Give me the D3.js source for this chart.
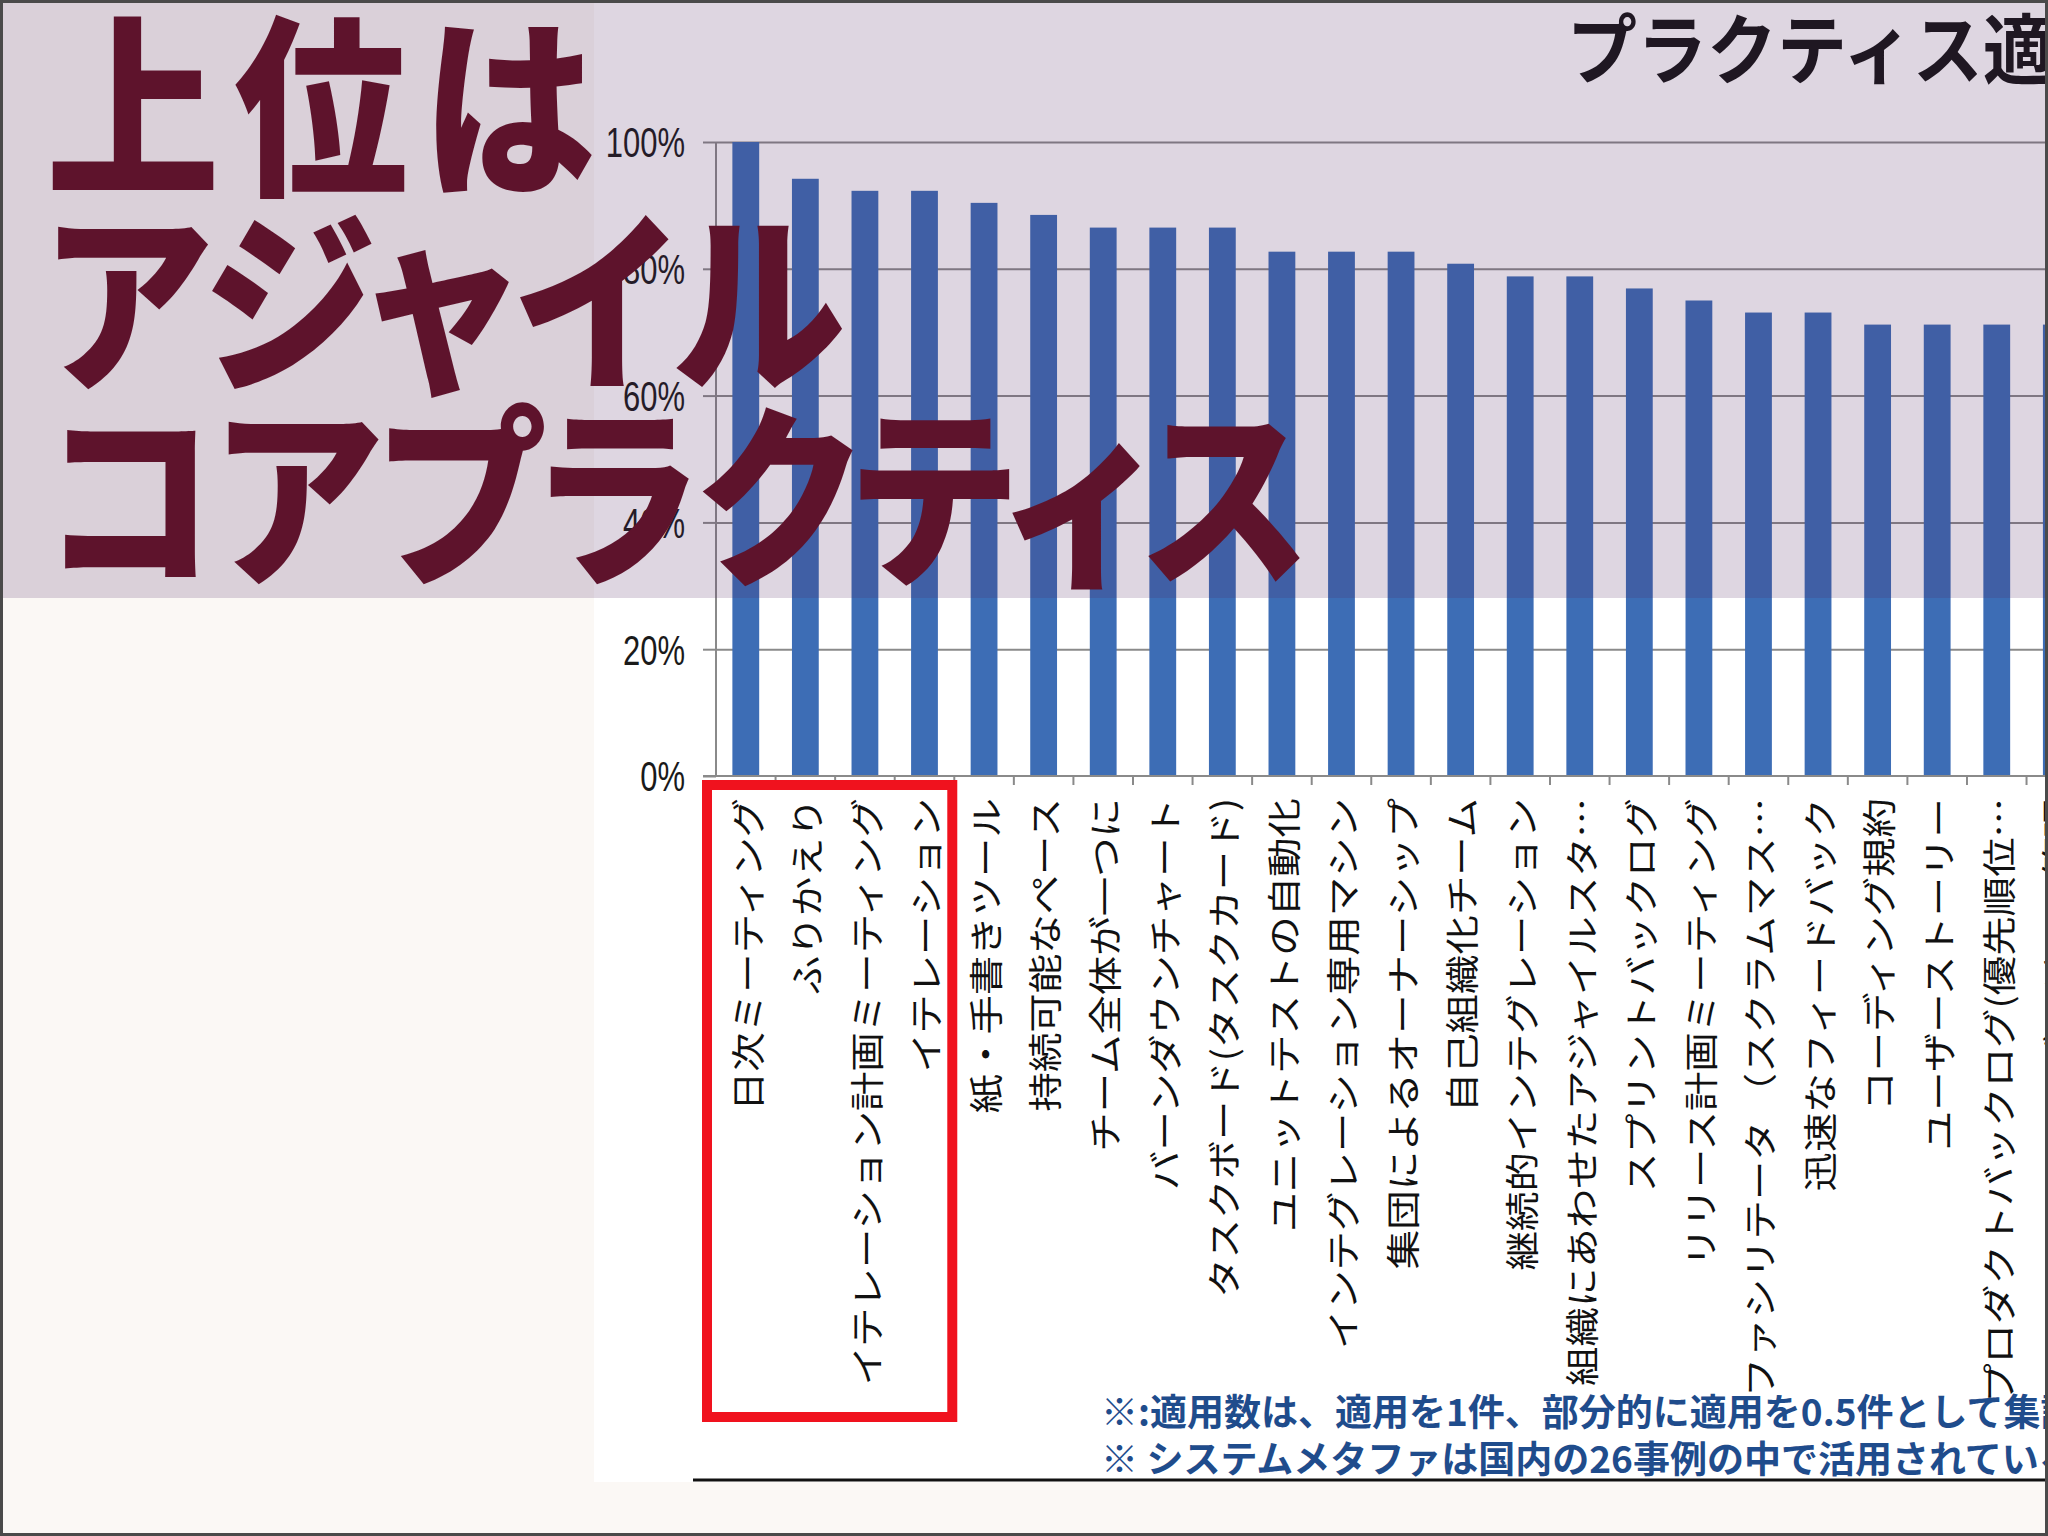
<!DOCTYPE html>
<html>
<head>
<meta charset="utf-8">
<script src="https://cdn.jsdelivr.net/npm/d3@7"></script>
<style>
  html, body { margin: 0; padding: 0; background: #fbf8f5; }
  svg { display: block; }
</style>
</head>
<body>
<svg id="chart" width="2048" height="1536"></svg>
<script>
// ---- data ----
const categories = [
  "日次ミーティング",
  "ふりかえり",
  "イテレーション計画ミーティング",
  "イテレーション",
  "紙・手書きツール",
  "持続可能なペース",
  "チーム全体が一つに",
  "バーンダウンチャート",
  "タスクボード(タスクカード)",
  "ユニットテストの自動化",
  "インテグレーション専用マシン",
  "集団によるオーナーシップ",
  "自己組織化チーム",
  "継続的インテグレーション",
  "組織にあわせたアジャイルスタ…",
  "スプリントバックログ",
  "リリース計画ミーティング",
  "ファシリテータ （スクラムマス…",
  "迅速なフィードバック",
  "コーディング規約",
  "ユーザーストーリー",
  "プロダクトバックログ(優先順位…",
  "バージョン管理"
];
const values = [100, 94.2, 92.3, 92.3, 90.4, 88.5, 86.5, 86.5, 86.5, 82.7, 82.7, 82.7,
                80.8, 78.8, 78.8, 76.9, 75.0, 73.1, 73.1, 71.2, 71.2, 71.2, 71.2];
const yTicks = [0, 20, 40, 60, 80, 100];
const yTickLabels = ["0%", "20%", "40%", "60%", "80%", "100%"];
const highlighted = ["日次ミーティング", "ふりかえり", "イテレーション計画ミーティング", "イテレーション"];
const chartTitle = "プラクティス適用率";
const footnotes = [
  "※:適用数は、適用を1件、部分的に適用を0.5件として集計",
  "※ システムメタファは国内の26事例の中で活用されている事例はなし"
];
const headlineLines = ["上位は", "アジャイル", "コアプラクティス"];

// ---- drawing ----
const W = 2048, H = 1536;
const svg = d3.select("#chart");

const step = 59.57;
const x0 = 716;
const x = d3.scaleBand()
  .domain(categories)
  .range([x0, x0 + categories.length * step])
  .paddingInner(0.55)
  .paddingOuter(0.275);
const y = d3.scaleLinear().domain([0, 100]).range([776, 142]);

// backgrounds
svg.append("rect").attr("x", 0).attr("y", 0).attr("width", W).attr("height", H).attr("fill", "#fbf8f5");
svg.append("rect").attr("x", 594).attr("y", 0).attr("width", W - 594).attr("height", 1482).attr("fill", "#ffffff");

// gridlines
const grid = svg.append("g").attr("transform", `translate(${x0},0)`)
  .call(d3.axisLeft(y).tickValues(yTicks.filter(d => d > 0)).tickSize(-(W - x0)).tickFormat(""));
grid.select(".domain").remove();
grid.selectAll("line").attr("stroke", "#8a8a8a").attr("stroke-width", 2);

// bars
svg.append("g").selectAll("rect")
  .data(values)
  .join("rect")
  .attr("x", (d, i) => x(categories[i]))
  .attr("y", d => y(d))
  .attr("width", x.bandwidth())
  .attr("height", d => y(0) - y(d))
  .attr("fill", "#3d6db5");

// y axis
const yAxis = svg.append("g").attr("transform", `translate(${x0},0)`)
  .call(d3.axisLeft(y).tickValues(yTicks).tickSize(13).tickPadding(0)
    .tickFormat((d, i) => yTickLabels[i]));
yAxis.select(".domain").attr("stroke", "#8a8a8a").attr("stroke-width", 2)
  .attr("d", `M0,${y(100)}V${y(0)}`);
yAxis.selectAll(".tick line").attr("stroke", "#8a8a8a").attr("stroke-width", 2);
yAxis.selectAll(".tick text")
  .attr("x", null).attr("dy", null)
  .attr("font-family", "'Liberation Sans', Arial, sans-serif")
  .attr("font-size", 31)
  .attr("fill", "#1a1a1a")
  .attr("text-anchor", "end")
  .attr("dominant-baseline", "central")
  .attr("transform", "translate(-31,0) scale(1,1.4)");

// x axis baseline + boundary ticks
svg.append("line")
  .attr("x1", x0 - 13).attr("x2", W).attr("y1", y(0)).attr("y2", y(0))
  .attr("stroke", "#8a8a8a").attr("stroke-width", 2);
const gap = (x.step() - x.bandwidth()) / 2;
svg.append("g").selectAll("line")
  .data(categories)
  .join("line")
  .attr("x1", d => x(d) - gap + x.step()).attr("x2", d => x(d) - gap + x.step())
  .attr("y1", y(0)).attr("y2", y(0) + 9)
  .attr("stroke", "#8a8a8a").attr("stroke-width", 2);

// category labels (rotated)
svg.append("g").selectAll("text")
  .data(categories)
  .join("text")
  .attr("transform", d => `translate(${x(d) + x.bandwidth() / 2},798) rotate(-90) scale(1.16,1)`)
  .attr("text-anchor", "end")
  .attr("dominant-baseline", "central")
  .attr("font-family", "'Noto Sans CJK JP', sans-serif")
  .attr("font-size", 34)
  .attr("fill", "#111")
  .text(d => d);

// chart title (clipped at the right edge)
svg.append("text")
  .attr("transform", "translate(1567,78) scale(1,1.08)")
  .attr("font-family", "'Noto Sans CJK JP', sans-serif")
  .attr("font-weight", 700)
  .attr("font-size", 70)
  .attr("fill", "#141414")
  .text(chartTitle);

// footnotes
svg.append("g").selectAll("text")
  .data(footnotes)
  .join("text")
  .attr("x", 1101)
  .attr("y", (d, i) => 1426 + i * 47)
  .attr("font-family", "'Noto Sans CJK JP', sans-serif")
  .attr("font-weight", 700)
  .attr("font-size", 37)
  .attr("fill", "#1f4c8c")
  .text(d => d);

// red highlight box around the top four practices
const hx1 = x(highlighted[0]) - gap - 9;
const hx2 = x(highlighted[highlighted.length - 1]) + x.bandwidth() + gap - 2;
svg.append("rect")
  .attr("x", hx1).attr("y", 785)
  .attr("width", hx2 - hx1).attr("height", 1417 - 785)
  .attr("fill", "none")
  .attr("stroke", "#f0121e")
  .attr("stroke-width", 10);

// black rule under the chart picture
svg.append("line")
  .attr("x1", 693).attr("x2", W).attr("y1", 1480).attr("y2", 1480)
  .attr("stroke", "#111").attr("stroke-width", 3);

// translucent band at the top
svg.append("rect")
  .attr("x", 0).attr("y", 0).attr("width", W).attr("height", 598)
  .attr("fill", "rgb(80,35,95)").attr("fill-opacity", 0.19);

// big headline
const headlineSpacing = [14, 2, 0];
svg.append("g").selectAll("text")
  .data(headlineLines)
  .join("text")
  .attr("transform", (d, i) => `translate(46,${181 + i * 195}) scale(1,1.12)`)
  .attr("font-family", "'Noto Sans CJK JP', sans-serif")
  .attr("font-weight", 900)
  .attr("font-size", 174)
  .attr("letter-spacing", (d, i) => headlineSpacing[i])
  .style("font-feature-settings", "'palt' 1")
  .attr("fill", "#5e132c")
  .text(d => d);

// slide frame
svg.append("rect")
  .attr("x", 1.5).attr("y", 1.5).attr("width", W - 3).attr("height", H - 3)
  .attr("fill", "none").attr("stroke", "#4a4a4a").attr("stroke-width", 3);
</script>
</body>
</html>
